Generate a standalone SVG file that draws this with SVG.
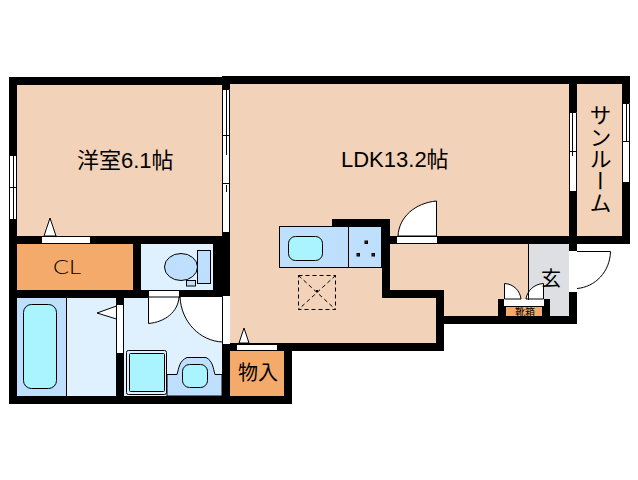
<svg xmlns="http://www.w3.org/2000/svg" width="638" height="480" viewBox="0 0 638 480">
<style>
.room{fill:#f2d2b8}.store{fill:#f4aa6a}.wet{fill:#dff1ff}.blue{fill:#bfdfff}.aqua{fill:#aaf4ff}
.wall{fill:#000}.open{fill:#fff}
.ln{fill:none;stroke:#000;stroke-width:1}
.bf{stroke:#000;stroke-width:1}
.swing{fill:#fff;stroke:#000;stroke-width:1}
.dash{fill:none;stroke:#000;stroke-width:1;stroke-dasharray:4 3}
text{font-family:"Liberation Sans","Noto Sans CJK JP",sans-serif;fill:#000}
.t{font-size:22px}
</style>
<rect width="638" height="480" fill="#fff"/>
<g id="floors">
<rect class="room" x="17" y="85" width="205" height="151"/>
<path class="room" d="M230 84H569V236H390V219H332V226H279V267H382V298H436V343H230Z"/>
<rect class="room" x="279" y="226" width="103" height="72"/>
<rect class="room" x="577" y="84" width="45" height="152"/>
<path class="room" d="M390 244H528V316H444V290H390Z"/>
<rect x="528" y="244" width="41" height="72" fill="#dddfe2"/>
<rect class="store" x="17" y="244" width="116" height="46"/>
<rect class="wet" x="141" y="244" width="72" height="46"/>
<rect class="blue" x="17" y="298" width="49" height="98"/>
<rect class="wet" x="66" y="298" width="50" height="98"/>
<rect class="wet" x="124" y="298" width="98" height="98"/>
<rect class="store" x="230" y="351" width="54" height="45"/>
</g>
<g id="walls">
<path class="wall" d="M9 77H222V76H630V244H577V324H444V351H292V404H9Z M17 85V236H222V85Z M230 84V343H436V298H382V226H332V219H390V290H444V316H498V299H550V316H569V244H390V236H569V84Z M577 84V236H622V84Z M17 244V290H133V244Z M141 244V290H213V244Z M17 298V396H116V298Z M124 298V396H222V298Z M230 351V396H284V351Z"/>
<rect class="wall" x="222" y="344" width="8" height="7"/>
</g>
<g id="openings">
<rect class="open" x="42" y="237" width="48" height="6"/>
<rect class="open" x="148" y="291" width="32" height="6"/>
<rect class="ln" x="148.500" y="290.500" width="31" height="7"/>
<rect class="open" x="117" y="305" width="6" height="48"/>
<rect class="open" x="223" y="296" width="7" height="48"/>
<rect class="open" x="237" y="345" width="40" height="5"/>
<rect class="open" x="397" y="237" width="40" height="6"/>
<rect class="open" x="569" y="251" width="8" height="41"/>
<rect class="open" x="504" y="299" width="40" height="7"/>
<rect class="store" x="506" y="307" width="36" height="9"/>
<path class="ln" d="M221.500 244V290"/>
</g>
<g id="windows">
<rect class="open" x="9" y="155" width="8" height="64"/>
<path class="ln" d="M9.500 155V219M16.500 155.500H9.500M13.500 155V219M16.500 155V219M9 187.500H17"/>
<rect class="open" x="222" y="89" width="8" height="143"/>
<path class="ln" d="M222.500 89.500H229.500V232M222.500 89V232M226.500 89V155M226.500 185V192M222 135.500H230M222 183.500H230"/>
<rect class="open" x="569" y="112" width="8" height="79"/>
<path class="ln" d="M569.500 112.500H576.500V191M569.500 112V191M572.500 112V156M569 151.500H577"/>
<rect class="open" x="622" y="103" width="8" height="79"/>
<path class="ln" d="M622.500 103.500H629.500V182M622.500 103V182M626.500 103V142M622 141.500H630"/>
</g>
<g id="doors">
<path class="swing" d="M44 236L50 218L56 236Z"/>
<path class="swing" d="M239 343L244 328L249 343Z"/>
<path class="swing" d="M116.500 306L97 313L116.500 319Z"/>
<path class="swing" d="M148.500 297V323.500C165 322 178 312 179 297Z"/>
<path class="swing" d="M180 296.500H222.500V342C200 341 181 322 180 296.500Z"/>
<path class="swing" d="M398 236C399 217 415 203 436.500 201V236Z"/>
<path class="swing" d="M504.500 299V283.500C514 284 520 291 521 299Z"/>
<path class="swing" d="M543.500 299V283.500C534 284 527 291 526 299Z"/>
<path class="ln" d="M577 251.500H610.500C610 272 595 287 577 288.500"/>
<path class="ln" d="M528.500 244V300"/>
</g>
<g id="fixtures">
<rect class="blue bf" x="279.500" y="226.500" width="102" height="41"/>
<path class="ln" d="M348.500 226V267"/>
<rect class="aqua bf" x="288.500" y="236.500" width="34" height="24" rx="7"/>
<g fill="#5a2a00" stroke="#000" stroke-width="1"><rect x="365" y="241" width="2.500" height="2.500"/><rect x="357" y="253.500" width="2.500" height="2.500"/><rect x="372" y="253.500" width="2.500" height="2.500"/></g>
<rect class="dash" x="298.500" y="275.500" width="37" height="34"/>
<path class="dash" d="M298.500 275.500L335.500 309.500M335.500 275.500L298.500 309.500"/>
<rect x="316" y="290" width="2" height="2"/>
<rect class="blue bf" x="197.500" y="250.500" width="13" height="33"/>
<ellipse class="blue bf" cx="181" cy="267" rx="16.500" ry="13.500"/>
<rect class="blue bf" x="186.500" y="280.500" width="9" height="5.500"/>
<rect class="aqua bf" x="23.500" y="304.500" width="33" height="84" rx="8"/>
<path class="ln" d="M66.500 298V396"/>
<rect class="wet bf" x="126.500" y="350.500" width="40" height="44" rx="2"/>
<rect class="aqua bf" x="129.500" y="353.500" width="35" height="38" rx="1"/>
<path class="blue bf" d="M167 396V374.500H177C179 368 179 361 187 357.500H206C213 361 213 368 215 374.500H222V396Z"/>
<rect class="aqua bf" x="182.500" y="364.500" width="25" height="23" rx="7"/>
</g>
<g id="labels">
<text class="t" x="77" y="168">洋室6.1帖</text>
<text class="t" x="341" y="167">LDK13.2帖</text>
<text x="53" y="274" font-size="20" font-weight="300" textLength="28" lengthAdjust="spacingAndGlyphs" style="font-family:Lato,'Noto Sans',sans-serif">CL</text>
<text x="238" y="380" font-size="20">物入</text>
<text x="541" y="286" font-size="20">玄</text>
<text x="598" y="104" font-size="22" writing-mode="vertical-rl" text-anchor="start">サンルーム</text>
<text x="525" y="316" font-size="10" text-anchor="middle">靴箱</text>
</g>
</svg>
